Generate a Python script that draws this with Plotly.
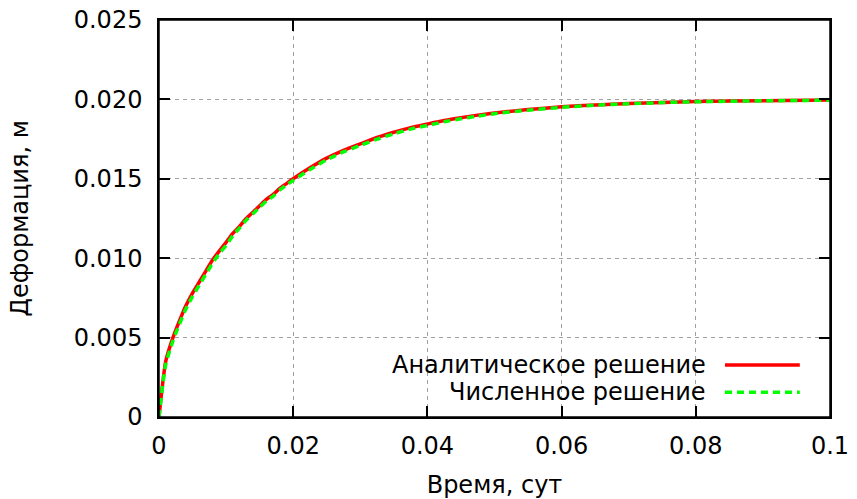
import plotly.graph_objects as go

# Time, days
time_days = [0, 0.001, 0.002, 0.003, 0.004, 0.005, 0.006, 0.007, 0.008, 0.009, 0.010,
             0.011, 0.012, 0.013, 0.014, 0.015, 0.016, 0.017, 0.018, 0.019, 0.020,
             0.0225, 0.025, 0.0275, 0.030, 0.0325, 0.035, 0.0375, 0.040, 0.0425, 0.045,
             0.0475, 0.050, 0.055, 0.060, 0.065, 0.070, 0.075, 0.080, 0.090, 0.100]
# Deformation, m
analytic = [0, 0.0035, 0.0049, 0.0060, 0.0070, 0.0078, 0.0085, 0.0092, 0.0099, 0.01046, 0.0110,
            0.01156, 0.0120, 0.0125, 0.0129, 0.0133, 0.0137, 0.0140, 0.0144, 0.0147, 0.0150,
            0.01569, 0.0163, 0.01679, 0.0172, 0.0176, 0.01793, 0.01822, 0.01845, 0.01867, 0.01885,
            0.01901, 0.01915, 0.01936, 0.01953, 0.01965, 0.01974, 0.01981, 0.01986, 0.01992, 0.01996]
numeric = [0, 0.0033, 0.0047, 0.0058, 0.0068, 0.0076, 0.0083, 0.0090, 0.0097, 0.01030, 0.0108,
           0.01142, 0.0119, 0.0124, 0.0128, 0.0132, 0.0136, 0.0139, 0.0143, 0.0146, 0.0149,
           0.01558, 0.0162, 0.01670, 0.0171, 0.0175, 0.01783, 0.01813, 0.01836, 0.01859, 0.01878,
           0.01895, 0.0191, 0.01932, 0.0195, 0.01963, 0.01972, 0.0198, 0.01985, 0.01991, 0.01995]

series_names = ["Аналитическое решение", "Численное решение"]
x_tick_vals = [0, 0.02, 0.04, 0.06, 0.08, 0.1]
x_tick_text = ["0", "0.02", "0.04", "0.06", "0.08", "0.1"]
y_tick_vals = [0, 0.005, 0.010, 0.015, 0.020, 0.025]
y_tick_text = ["0", "0.005", "0.010", "0.015", "0.020", "0.025"]

FONT = "DejaVu Sans"
FS = 24

fig = go.Figure()
fig.add_trace(go.Scatter(x=time_days, y=analytic, mode="lines", name=series_names[0],
                         line=dict(color="#ff0000", width=3.5, shape="spline", smoothing=0.6),
                         showlegend=False, cliponaxis=False))
fig.add_trace(go.Scatter(x=time_days, y=numeric, mode="lines", name=series_names[1],
                         line=dict(color="#00ff00", width=3.5, dash="7px,5px", shape="spline", smoothing=0.6),
                         showlegend=False))

axis_common = dict(
    showline=True, linecolor="black", linewidth=1.5, mirror="ticks",
    ticks="inside", ticklen=11, tickwidth=1.5, tickcolor="black",
    showgrid=True, gridcolor="#a0a0a0", gridwidth=1, griddash="4px,4px",
    zeroline=False, tickfont=dict(family=FONT, size=FS, color="black"),
    automargin=False, ticklabeloverflow="allow",
)

fig.update_xaxes(range=[0, 0.1], tickvals=x_tick_vals, ticktext=x_tick_text,
                 title=dict(text="Время, сут", font=dict(family=FONT, size=FS, color="black"), standoff=18),
                 ticklabelstandoff=6, **axis_common)
fig.update_yaxes(range=[0, 0.025], tickvals=y_tick_vals, ticktext=y_tick_text,
                 title=dict(text="Деформация, м", font=dict(family=FONT, size=FS, color="black"), standoff=38),
                 ticklabelstandoff=10, **axis_common)

# gnuplot-style legend: text on the left, sample line on the right
legend_rows = [0.1308, 0.0621]
styles = [dict(color="#ff0000", width=3.5), dict(color="#00ff00", width=3.5, dash="7px,5px")]
for name, yy, st in zip(series_names, legend_rows, styles):
    fig.add_annotation(xref="paper", yref="paper", x=0.818, y=yy, text=name, showarrow=False,
                       xanchor="right", yanchor="middle",
                       font=dict(family=FONT, size=FS, color="black"))
    fig.add_shape(type="line", xref="paper", yref="paper", x0=0.8435, x1=0.955, y0=yy, y1=yy,
                  line=st)

# frame around the plotting area (gnuplot border)
fig.add_shape(type="rect", xref="paper", yref="paper", x0=0, x1=1, y0=0, y1=1,
              line=dict(color="black", width=1.5), layer="above")

fig.update_layout(
    width=857, height=499,
    margin=dict(l=159, r=27, t=20, b=82),
    plot_bgcolor="white", paper_bgcolor="white",
    font=dict(family=FONT, size=FS, color="black"),
)

# remove the default page margin so the figure fills the window exactly
fig.write_html("out.html", config={"displayModeBar": False},
               post_script="document.body.style.margin='0';")
